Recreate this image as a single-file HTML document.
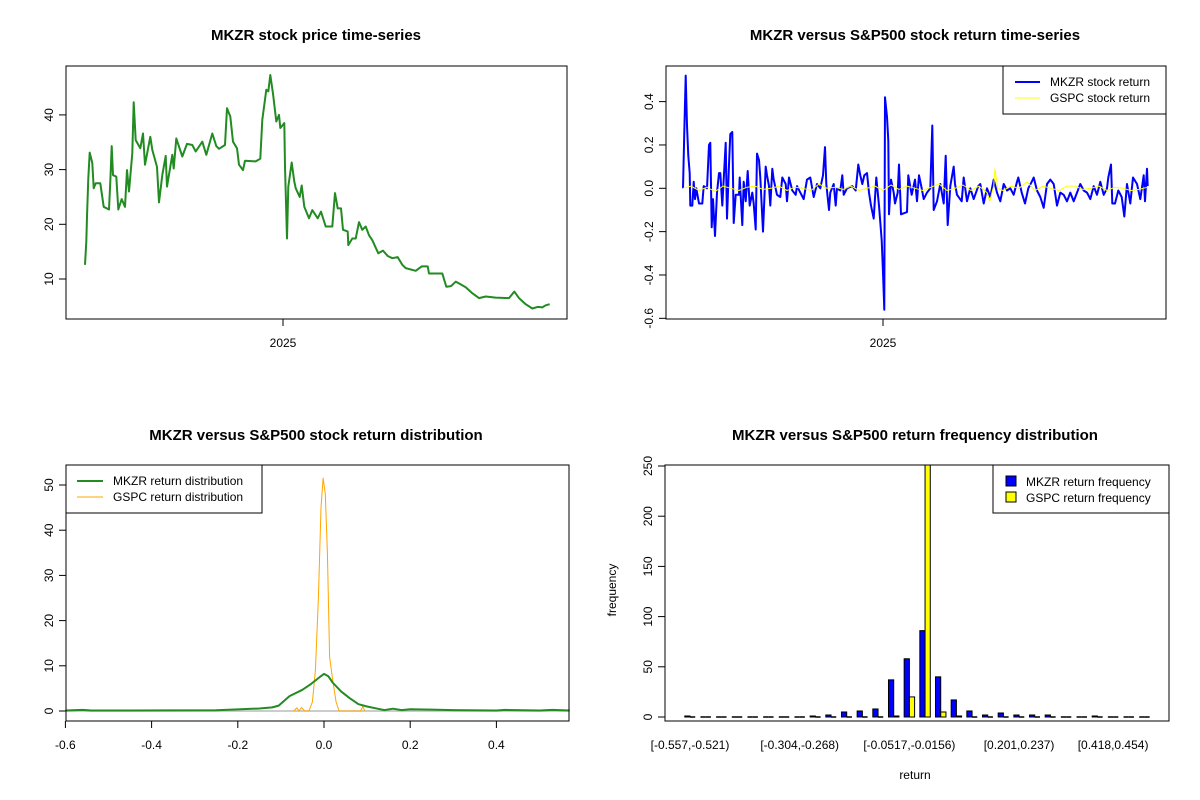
<!DOCTYPE html>
<html><head><meta charset="utf-8"><style>
body{margin:0;background:#fff}
svg{display:block;font-family:"Liberation Sans",Arial,sans-serif}
.t{font-weight:bold;font-size:15px;text-anchor:middle}
.tk{font-size:12px}
</style></head><body>
<svg id="c" width="1200" height="800" viewBox="0 0 1200 800">
<rect width="1200" height="800" fill="#fff"/>
<text class="t" x="316" y="40">MKZR stock price time-series</text>
<text class="t" x="915" y="40">MKZR versus S&amp;P500 stock return time-series</text>
<text class="t" x="316" y="440">MKZR versus S&amp;P500 stock return distribution</text>
<text class="t" x="915" y="440">MKZR versus S&amp;P500 return frequency distribution</text>
<text class="tk" x="915" y="779" text-anchor="middle">return</text>
<text class="tk" transform="translate(616,590) rotate(-90)" text-anchor="middle">frequency</text>
</svg>
<script>
// ---- data ----
const priceDays=[-297,-295,-294,-292,-290,-286,-284,-281,-274,-269,-261,-259,-257,-255,-250,-247,-242,-237,-234,-231,-226,-224,-221,-214,-210,-207,-199,-196,-189,-186,-181,-176,-174,-166,-164,-160,-151,-144,-136,-131,-121,-115,-106,-100,-96,-87,-84,-79,-75,-69,-66,-60,-57,-41,-34,-31,-25,-22,-19,-15,-10,-6,-4,2,3,6,8,13,17,19,25,28,32,39,44,52,57,64,74,78,82,87,90,97,98,104,109,114,119,124,129,134,143,150,157,164,172,179,184,199,208,217,219,239,245,252,259,264,274,284,294,304,319,339,347,354,364,374,382,389,394,400];
const priceVals=[12.6,16.8,21.4,28.4,33.1,31.2,26.6,27.5,27.5,23.2,22.7,27.8,34.3,29,28.7,22.7,24.6,23.2,29.9,26,33,42.3,35.4,33.9,36.6,30.9,36,33.6,30.5,24,29,32.5,26.9,32.7,30.2,35.7,32.4,34.7,34.5,33.3,35.1,32.7,36.6,34.3,33.8,34.5,41.2,39.7,35.1,33.9,30.9,29.9,31.6,31.5,32,39.1,44.6,44.3,47.3,43.9,38.8,40,37.6,38.5,30.5,17.4,26.9,31.3,27.8,26.6,25,27.1,23.2,21.1,22.6,21.1,22.3,19.6,19.6,25.7,22.9,22.9,19,18.7,16.2,17.4,17.4,20.4,19,19.6,18,17.1,14.7,15.2,14.2,13.8,14,12.6,12,11.5,12.3,12.3,11,11,8.6,8.7,9.5,9.2,8.5,7.4,6.5,6.8,6.6,6.5,7.7,6.5,5.4,4.6,4.9,4.8,5.2,5.4];
const priceTicks=[10,20,30,40];
const retDays=[-300,-298,-296,-294,-292,-290,-289,-286,-284,-282,-280,-276,-271,-269,-264,-261,-259,-257,-255,-252,-249,-246,-244,-241,-239,-236,-234,-231,-229,-226,-224,-221,-216,-215,-211,-209,-206,-203,-200,-196,-194,-191,-189,-186,-184,-180,-176,-174,-171,-169,-166,-164,-159,-154,-151,-146,-144,-141,-136,-131,-129,-124,-119,-114,-109,-104,-99,-94,-90,-87,-85,-81,-79,-74,-71,-69,-64,-61,-59,-54,-46,-41,-37,-34,-31,-28,-24,-21,-18,-14,-10,-6,-2,0,2,3,6,8,9,12,16,18,22,24,27,36,38,43,48,51,54,58,61,66,71,74,76,81,86,91,94,97,101,106,108,111,118,121,126,131,136,143,146,151,156,161,166,171,176,181,186,191,196,201,203,208,213,218,223,226,231,236,241,246,251,256,261,266,271,276,281,286,291,296,301,306,311,316,321,326,331,336,338,342,344,348,353,358,362,366,371,375,381,386,391,393,396,397];
const retVals=[0,0.26,0.52,0.29,0.15,0.07,-0.08,-0.08,0.03,-0.05,0,-0.07,-0.07,0.01,0,0.2,0.21,-0.18,-0.05,-0.22,-0.02,0.07,0.07,-0.08,0.04,0.21,-0.14,0.11,0.25,0.26,-0.16,-0.03,-0.03,0.05,-0.17,0.03,-0.06,0.08,-0.08,-0.02,-0.07,-0.19,0.16,0.13,0.05,-0.2,0.1,0.06,0.01,-0.08,0.09,0.04,-0.03,-0.04,0.05,0.02,-0.06,0.05,-0.01,-0.03,0.01,-0.02,-0.05,0.04,0.05,-0.04,0.02,0,0.06,0.19,0.02,-0.1,-0.02,0.02,-0.08,0,-0.01,0.06,-0.03,0,0.01,-0.01,0.11,0.06,0.02,0.06,0.07,-0.02,-0.08,-0.14,0.05,-0.08,-0.24,-0.39,-0.56,0.42,0.33,0.22,-0.12,0.04,-0.02,-0.07,-0.02,0.11,-0.12,-0.11,0.06,-0.03,0.04,-0.06,0.06,0,-0.05,-0.02,0,0.29,-0.1,-0.06,0.02,-0.07,0.15,-0.17,0.01,0.1,0.02,-0.03,-0.06,0.05,-0.06,0,-0.05,0.01,0.02,-0.07,0,-0.04,0.04,-0.02,-0.06,0.02,-0.01,0,-0.03,0.03,0.05,-0.02,-0.07,0,0.03,0.05,-0.01,-0.04,-0.09,0.02,0.04,0.02,-0.08,-0.02,-0.03,-0.06,-0.02,-0.06,-0.02,0.02,-0.01,-0.02,-0.05,0.01,-0.03,0.03,-0.03,0,0.05,0.11,-0.07,-0.07,-0.01,-0.04,-0.13,0.02,-0.07,0.05,0.02,-0.05,0.06,-0.06,0.09,0.01];
const gspcDays=[-300,-288,-276,-264,-252,-240,-228,-216,-204,-192,-180,-168,-156,-144,-132,-120,-108,-96,-84,-72,-60,-48,-36,-24,-12,0,12,24,36,48,60,72,84,96,108,120,132,144,156,160,166,168,172,180,192,204,216,228,240,252,264,276,288,300,312,324,336,348,360,372,384,397];
const gspcVals=[0,0.01,-0.01,0.005,-0.015,0.01,0,-0.01,0.005,0.01,-0.005,0,0.01,-0.01,0.005,0,-0.01,0.02,0,0.005,-0.005,0.01,-0.01,0,0.01,-0.01,0.015,-0.005,0.01,0,-0.01,0.005,0.02,-0.01,0,0.015,-0.01,0.01,-0.02,-0.06,0.01,0.09,0,-0.01,0.01,0,0.03,-0.01,0.01,0,-0.01,0.01,0.01,-0.005,0,0.01,-0.01,0.005,0,-0.01,-0.005,0.005];
const retTicks=[-0.6,-0.4,-0.2,0,0.2,0.4];
const densMkzrX=[-0.6,-0.56,-0.54,-0.25,-0.2,-0.15,-0.12,-0.105,-0.08,-0.05,-0.03,-0.01,0,0.01,0.02,0.04,0.06,0.08,0.1,0.12,0.14,0.16,0.18,0.2,0.25,0.3,0.4,0.42,0.5,0.53,0.57];
const densMkzrY=[0.1,0.25,0.1,0.15,0.35,0.55,0.8,1.2,3.3,4.7,6.0,7.5,8.2,7.7,6.3,4.3,2.8,1.5,1.0,0.6,0.2,0.5,0.2,0.4,0.3,0.2,0.1,0.25,0.1,0.25,0.1];
const densGspcX=[-0.07,-0.063,-0.058,-0.052,-0.045,-0.035,-0.027,-0.02,-0.013,-0.007,-0.002,0.003,0.008,0.013,0.02,0.028,0.035,0.085,0.09,0.095];
const densGspcY=[0,0.7,0,0.8,0,0,2,9,25,45,51.5,48,35,12,7,2,0,0,1,0];
const densXTicks=[-0.6,-0.4,-0.2,0,0.2,0.4];
const densYTicks=[0,10,20,30,40,50];
const binLabels=["[-0.557,-0.521)","[-0.304,-0.268)","[-0.0517,-0.0156)","[0.201,0.237)","[0.418,0.454)"];
const binLabelIdx=[0,7,14,21,27];
const mkzrFreq=[1,0,0,0,0,0,0,0,1,2,5,6,8,37,58,86,40,17,6,2,4,2,2,2,0,0,1,0,0,0];
const gspcFreq=[0,0,0,0,0,0,0,0,0,0,0,0,0,1,20,290,5,1,0,0,0,0,0,0,0,0,0,0,0,0];
const freqTicks=[0,50,100,150,200,250];

// ---- drawing ----
const svg=document.getElementById('c');const NS='http://www.w3.org/2000/svg';
function mk(tag,attrs,parent){const e=document.createElementNS(NS,tag);for(const k in attrs)e.setAttribute(k,attrs[k]);(parent||svg).appendChild(e);return e;}
function box(x0,y0,x1,y1,name){const r=mk('rect',{x:x0,y:y0,width:x1-x0,height:y1-y0,fill:'none',stroke:'#000','stroke-width':1});

}
function yTicks(vals,sy,x0,name,fmt){vals.forEach(v=>{const y=sy(v);const l=mk('line',{x1:x0-7,x2:x0,y1:y,y2:y,stroke:'#000'});


const t=mk('text',{class:'tk','text-anchor':'middle',transform:`translate(${x0-13},${y}) rotate(-90)`});t.textContent=fmt?fmt(v):String(v);

});}
function xTick(x,y0,label,name){const l=mk('line',{x1:x,x2:x,y1:y0,y2:y0+7,stroke:'#000'});


const t=mk('text',{class:'tk','text-anchor':'middle',x:x,y:y0+28});t.textContent=label;

}
function path(xs,ys,sx,sy,color,w,name,clip){const d=xs.map((x,i)=>(i?'L':'M')+sx(x).toFixed(1)+','+sy(ys[i]).toFixed(1)).join('');
const p=mk('path',{d:d,fill:'none',stroke:color,'stroke-width':w,'stroke-linejoin':'round'});if(clip)p.setAttribute('clip-path',clip);

}

// Panel 1: price
{const sx=d=>283+d*0.6667, sy=v=>279-(v-10)*5.47;
path(priceDays,priceVals,sx,sy,'#228B22',2,'mkzr-price-line');
box(66,66,567,319,'price-plot-box');
yTicks(priceTicks,sy,66,'price-y');
xTick(283,319,'2025','price-x');}

// Panel 2: returns
{const sx=d=>883+d*0.6667, sy=v=>188.3-v*216.7;
mk('defs',{}).innerHTML='<clipPath id="cp2"><rect x="666" y="66" width="500" height="253"/></clipPath><clipPath id="cp4"><rect x="665" y="465" width="504" height="256"/></clipPath>';
path(retDays,retVals,sx,sy,'#0000FF',2,'mkzr-return-line');
path(gspcDays,gspcVals,sx,sy,'#FFFF00',1,'gspc-return-line');
box(666,66,1166,319,'return-plot-box');
yTicks(retTicks,sy,666,'return-y',v=>v.toFixed(1));
xTick(883,319,'2025','return-x');
const g=mk('g',{});
mk('rect',{x:1003,y:66,width:163,height:48,fill:'#fff',stroke:'#000'},g);
mk('line',{x1:1015,x2:1040,y1:82,y2:82,stroke:'#0000FF','stroke-width':2},g);
mk('line',{x1:1015,x2:1040,y1:98,y2:98,stroke:'#FFFF00','stroke-width':1},g);
const a=mk('text',{class:'tk',x:1050,y:86},g);a.textContent='MKZR stock return';
const b=mk('text',{class:'tk',x:1050,y:102},g);b.textContent='GSPC stock return';}

// Panel 3: density
{const sx=v=>324+v*431, sy=v=>711-v*4.52;
mk('line',{x1:66,x2:569,y1:sy(0),y2:sy(0),stroke:'#bbb','stroke-width':1.5});
path(densGspcX,densGspcY,sx,sy,'#FFA500',1,'gspc-density-line');
path(densMkzrX,densMkzrY,sx,sy,'#228B22',2,'mkzr-density-line');
box(66,465,569,721,'density-plot-box');
yTicks(densYTicks,sy,66,'density-y');
mk('line',{x1:66,x2:496,y1:721,y2:721,stroke:'#000'});
densXTicks.forEach(v=>xTick(sx(v),721,v.toFixed(1),'density-x'));
const g=mk('g',{});
mk('rect',{x:66,y:465,width:196,height:48,fill:'#fff',stroke:'#000'},g);
mk('line',{x1:77,x2:103,y1:481,y2:481,stroke:'#228B22','stroke-width':2},g);
mk('line',{x1:77,x2:103,y1:497,y2:497,stroke:'#FFA500','stroke-width':1},g);
const a=mk('text',{class:'tk',x:113,y:485},g);a.textContent='MKZR return distribution';
const b=mk('text',{class:'tk',x:113,y:501},g);b.textContent='GSPC return distribution';}

// Panel 4: histogram bars
{const bw=15.67, u=bw/3, cx=i=>690+i*bw, sy=v=>717-v*1.004;
const g=mk('g',{'clip-path':'url(#cp4)'});
function bar(x,v,fill,name){let e;
if(v>0){e=mk('rect',{x:x,y:sy(v),width:u,height:sy(0)-sy(v),fill:fill,stroke:'#000','stroke-width':1},g);}
else{e=mk('line',{x1:x,x2:x+u,y1:sy(0),y2:sy(0),stroke:'#000','stroke-width':1.5},g);}

}
mkzrFreq.forEach((v,i)=>bar(cx(i)-u,v,'#0000FF','mkzr-bar-'+i));
gspcFreq.forEach((v,i)=>bar(cx(i),v,'#FFFF00','gspc-bar-'+i));
box(665,465,1169,721,'frequency-plot-box');
yTicks(freqTicks,sy,665,'frequency-y');
binLabelIdx.forEach((b,k)=>{const t=mk('text',{class:'tk','text-anchor':'middle',x:cx(b),y:749});t.textContent=binLabels[k];

});
const lg=mk('g',{});
mk('rect',{x:993,y:465,width:176,height:48,fill:'#fff',stroke:'#000'},lg);
mk('rect',{x:1006,y:476,width:10,height:10,fill:'#0000FF',stroke:'#000'},lg);
mk('rect',{x:1006,y:492,width:10,height:10,fill:'#FFFF00',stroke:'#000'},lg);
const a=mk('text',{class:'tk',x:1026,y:486},lg);a.textContent='MKZR return frequency';
const b=mk('text',{class:'tk',x:1026,y:502},lg);b.textContent='GSPC return frequency';}
</script>
</body></html>
